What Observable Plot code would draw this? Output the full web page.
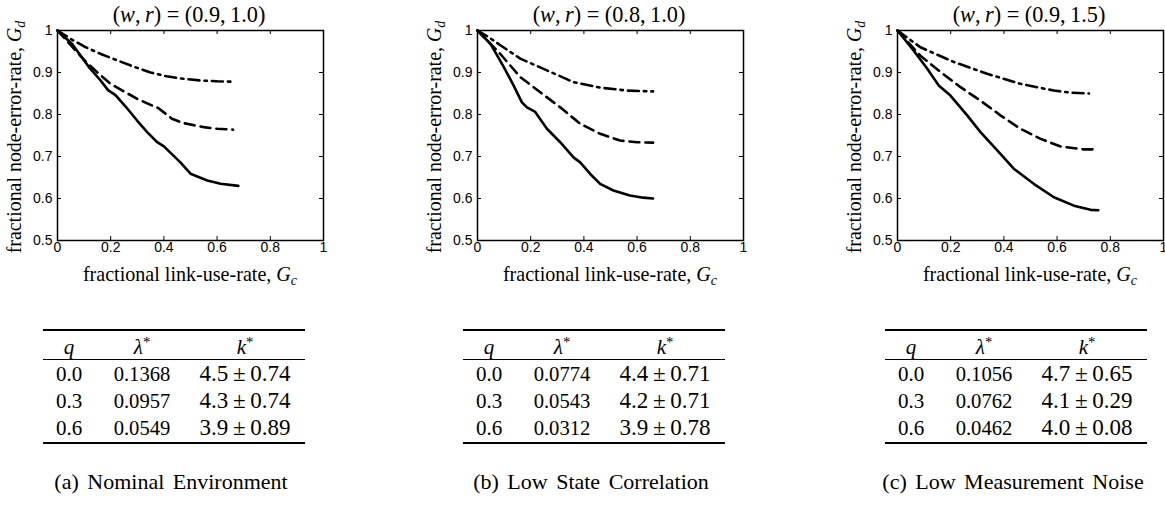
<!DOCTYPE html>
<html><head><meta charset="utf-8">
<script src="https://cdn.jsdelivr.net/npm/d3@7"></script>
<script src="https://cdn.jsdelivr.net/npm/@observablehq/plot@0.6"></script>
<style>
html,body{margin:0;padding:0;background:#fff;overflow:hidden;}
#root{position:relative;width:1165px;height:505px;overflow:hidden;font-family:"Liberation Serif","Times New Roman",serif;color:#000;}
.abs{position:absolute;white-space:nowrap;line-height:1;}
.rule{position:absolute;background:#000;}
sub{font-size:70%;vertical-align:-0.28em;line-height:0;}
sup{font-size:70%;vertical-align:0.45em;line-height:0;}
svg{overflow:visible;}
</style></head><body><div id="root"></div>
<script>
// ---- data ----
const xTicks = [0, 0.2, 0.4, 0.6, 0.8, 1];
const yTicks = [0.5, 0.6, 0.7, 0.8, 0.9, 1];
const wValues = ["0.9", "0.8", "0.9"];
const rValues = ["1.0", "1.0", "1.5"];
const captions = ["(a) Nominal Environment", "(b) Low State Correlation", "(c) Low Measurement Noise"];
const qValues = ["0.0", "0.3", "0.6"];
const lambdaA = ["0.1368", "0.0957", "0.0549"];
const lambdaB = ["0.0774", "0.0543", "0.0312"];
const lambdaC = ["0.1056", "0.0762", "0.0462"];
const kMeanA = ["4.5", "4.3", "3.9"];
const kStdA = ["0.74", "0.74", "0.89"];
const kMeanB = ["4.4", "4.2", "3.9"];
const kStdB = ["0.71", "0.71", "0.78"];
const kMeanC = ["4.7", "4.1", "4.0"];
const kStdC = ["0.65", "0.29", "0.08"];

// [Gc, Gd] pairs
const a_q00 = [[0,1],[0.055,0.968],[0.118,0.913],[0.162,0.881],[0.19,0.858],[0.218,0.846],[0.256,0.819],[0.3,0.785],[0.337,0.758],[0.375,0.734],[0.4,0.724],[0.462,0.686],[0.5,0.659],[0.563,0.643],[0.613,0.635],[0.68,0.63]];
const a_q03 = [[0,1],[0.05,0.965],[0.1,0.93],[0.15,0.9],[0.2,0.873],[0.25,0.855],[0.3,0.837],[0.35,0.823],[0.38,0.815],[0.43,0.79],[0.47,0.78],[0.5,0.776],[0.55,0.77],[0.6,0.766],[0.66,0.764]];
const a_q06 = [[0,1],[0.05,0.98],[0.1,0.962],[0.163,0.944],[0.22,0.93],[0.29,0.913],[0.35,0.9],[0.41,0.891],[0.46,0.886],[0.537,0.881],[0.6,0.879],[0.66,0.878]];
const b_q00 = [[0,1],[0.049,0.968],[0.099,0.913],[0.135,0.87],[0.167,0.829],[0.186,0.817],[0.217,0.806],[0.261,0.766],[0.311,0.734],[0.361,0.698],[0.386,0.686],[0.423,0.659],[0.461,0.635],[0.511,0.619],[0.573,0.607],[0.623,0.602],[0.66,0.6]];
const b_q03 = [[0,1],[0.086,0.944],[0.161,0.889],[0.236,0.853],[0.311,0.817],[0.386,0.778],[0.461,0.754],[0.536,0.738],[0.6,0.734],[0.66,0.733]];
const b_q06 = [[0,1],[0.04,0.985],[0.086,0.965],[0.161,0.933],[0.261,0.905],[0.361,0.877],[0.461,0.864],[0.561,0.857],[0.66,0.855]];
const c_q00 = [[0,1],[0.061,0.952],[0.112,0.909],[0.155,0.869],[0.199,0.845],[0.262,0.798],[0.312,0.758],[0.387,0.706],[0.437,0.671],[0.512,0.635],[0.588,0.603],[0.663,0.583],[0.726,0.573],[0.755,0.572]];
const c_q03 = [[0,1],[0.086,0.94],[0.162,0.901],[0.237,0.865],[0.312,0.833],[0.387,0.798],[0.462,0.766],[0.538,0.742],[0.613,0.724],[0.7,0.717],[0.735,0.717]];
const c_q06 = [[0,1],[0.086,0.96],[0.212,0.925],[0.337,0.897],[0.462,0.873],[0.588,0.857],[0.65,0.852],[0.72,0.85]];

const panels = [
  {series: [a_q00, a_q03, a_q06], lambda: lambdaA, kMean: kMeanA, kStd: kStdA},
  {series: [b_q00, b_q03, b_q06], lambda: lambdaB, kMean: kMeanB, kStd: kStdB},
  {series: [c_q00, c_q03, c_q06], lambda: lambdaC, kMean: kMeanC, kStd: kStdC}
];

// ---- layout ----
const root = document.getElementById("root");
const frameLefts = [57, 477, 897];
const FW = 266, FT = 30, FH = 210, ML = 57;
const tableLefts = [43, 463, 885];
const colOffsets = [26, 99, 202];
const rowYs = [374, 401, 428];
const dashes = [null, "10,6", "11,5,2.5,5"];
const fmt = d => (d === 0 || d === 1) ? String(d) : d.toFixed(1);

function text(html, x, y, size, extra = "") {
  const el = document.createElement("div");
  el.className = "abs";
  el.style.left = x + "px";
  el.style.top = y + "px";
  el.style.fontSize = size + "px";
  el.style.transform = "translate(-50%,-50%) " + extra;
  el.innerHTML = html;
  root.appendChild(el);
  return el;
}
function fitWidth(el, size, target) {
  const w = el.offsetWidth;
  if (w > 0) el.style.fontSize = (size * target / w) + "px";
}
function rule(x, y, w, h) {
  const el = document.createElement("div");
  el.className = "rule";
  Object.assign(el.style, {left: x + "px", top: y + "px", width: w + "px", height: h + "px"});
  root.appendChild(el);
}

panels.forEach((p, i) => {
  const fl = frameLefts[i];
  const chart = Plot.plot({
    width: ML + FW + 20, height: FT + FH + 22,
    marginLeft: ML, marginRight: 20, marginTop: FT, marginBottom: 22,
    x: {domain: [0, 1]},
    y: {domain: [0.5, 1]},
    style: {background: "transparent", fontFamily: "'Liberation Sans', Arial, sans-serif", fontSize: "14px", color: "#000", overflow: "visible"},
    marks: [
      Plot.axisX({ticks: xTicks, tickSize: 0, tickPadding: 2, tickFormat: fmt, label: null, fontSize: 14}),
      Plot.axisY({ticks: yTicks, tickSize: 0, tickPadding: 5, tickFormat: fmt, label: null, fontSize: 14}),
      Plot.tickX(xTicks, {x: d => d, insetTop: FH - 4, stroke: "#000"}),
      Plot.tickX(xTicks, {x: d => d, insetBottom: FH - 4, stroke: "#000"}),
      Plot.tickY(yTicks, {y: d => d, insetLeft: FW - 4, stroke: "#000"}),
      Plot.tickY(yTicks, {y: d => d, insetRight: FW - 4, stroke: "#000"}),
      ...p.series.map((s, j) => Plot.line(s, {x: d => d[0], y: d => d[1], stroke: "#000", strokeWidth: 2.6, strokeDasharray: dashes[j], strokeLinejoin: "round"})),
      Plot.frame({stroke: "#000", strokeWidth: 1.5})
    ]
  });
  chart.style.position = "absolute";
  chart.style.left = (fl - ML) + "px";
  chart.style.top = "0px";
  chart.style.maxWidth = "none";
  root.appendChild(chart);

  const cx = fl + FW / 2;
  const title = text(`(<i>w</i>,&thinsp;<i>r</i>)&nbsp;=&nbsp;(${wValues[i]},&thinsp;${rValues[i]})`, cx - 1, 15, 22);
  fitWidth(title, 22, 153);
  const yl = text(`fractional node-error-rate, <i>G</i><sub><i>d</i></sub>`, fl - 42, FT + FH / 2 + 2, 20, "rotate(-90deg)");
  fitWidth(yl, 20, 233);
  const xl = text(`fractional link-use-rate, <i>G</i><sub><i>c</i></sub>`, cx, 274, 20);
  fitWidth(xl, 20, 214);

  // table
  const tl = tableLefts[i];
  rule(tl, 329, 262, 2);
  rule(tl, 358.5, 262, 1);
  rule(tl, 442, 262, 2);
  text(`<i>q</i>`, tl + colOffsets[0], 347, 21);
  text(`<i>λ</i><sup>*</sup>`, tl + colOffsets[1], 347, 21);
  text(`<i>k</i><sup>*</sup>`, tl + colOffsets[2], 347, 21);
  qValues.forEach((q, r) => {
    text(q, tl + colOffsets[0], rowYs[r], 21);
    const lam = text(p.lambda[r], tl + colOffsets[1], rowYs[r], 21);
    fitWidth(lam, 21, 57);
    const k = text(`${p.kMean[r]}&thinsp;±&thinsp;${p.kStd[r]}`, tl + colOffsets[2], rowYs[r], 21);
    fitWidth(k, 21, 91);
  });
  const cap = text(captions[i], tl + 128, 482, 22);
  cap.style.wordSpacing = "3px";
});
</script></body></html>
